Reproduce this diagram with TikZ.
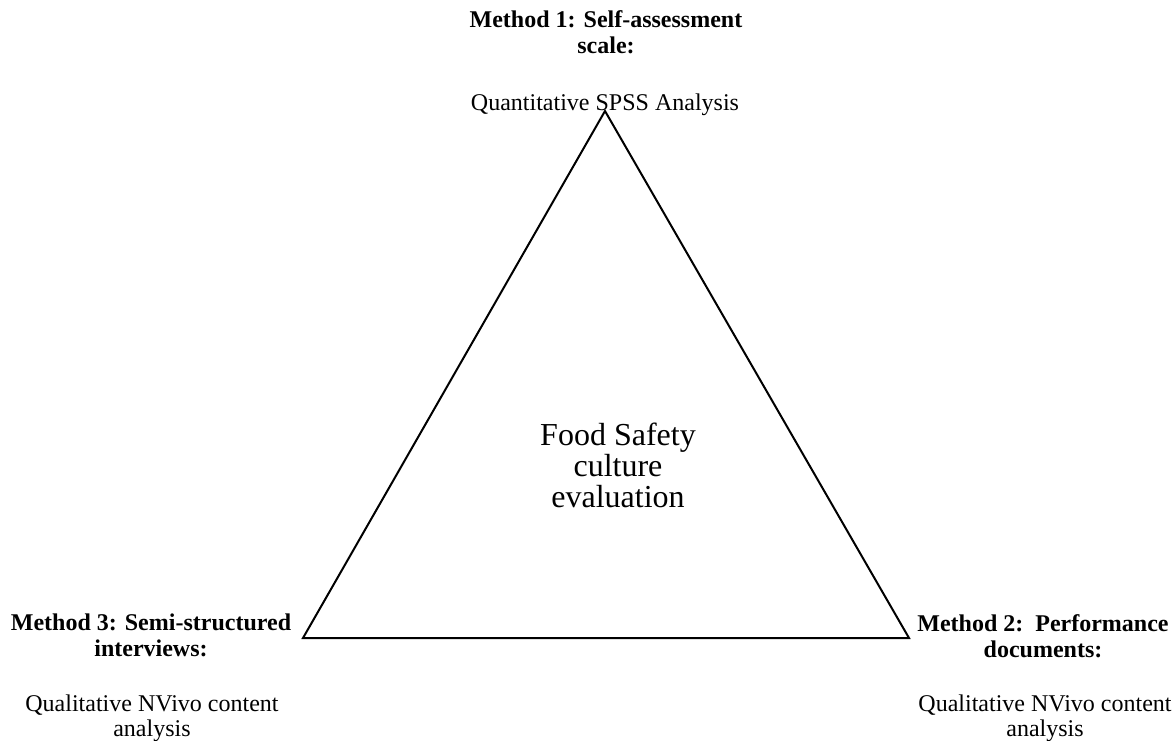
\documentclass[tikz,border=0pt]{standalone}
\usepackage{fontspec}
\setmainfont{Liberation Serif}
\begin{document}
\begin{tikzpicture}[x=0.5pt,y=-0.5pt,
  head/.style={inner sep=0pt,align=center,font=\fontsize{12}{12.9}\selectfont\bfseries},
  sub/.style={inner sep=0pt,align=center,font=\fontsize{12}{12.5}\selectfont},
  core/.style={inner sep=0pt,align=center,font=\fontsize{16}{15.5}\selectfont},
  edge/.style={line width=1pt,line join=miter}]
\useasboundingbox (0,0) rectangle (1174,740);
\coordinate (apex) at (605,111);
\coordinate (bl) at (303,638);
\coordinate (br) at (909,638);
\draw[edge] (apex) -- (br) -- (bl) -- cycle;
\node[core] (center) at (618,465) {Food Safety\\culture\\evaluation};
\node[head] (m1) at (606,32) {Method 1: Self-assessment\\scale:};
\node[sub,anchor=base] (m1s) at (605,110) {Quantitative SPSS Analysis};
\node[head] (m3) at (151,635) {Method 3: Semi-structured\\interviews:};
\node[sub] (m3s) at (152,718) {Qualitative NVivo content\\analysis};
\node[head] (m2) at (1043,636) {Method 2:\ \ Performance\\documents:};
\node[sub] (m2s) at (1045,718) {Qualitative NVivo content\\analysis};
\end{tikzpicture}
\end{document}
